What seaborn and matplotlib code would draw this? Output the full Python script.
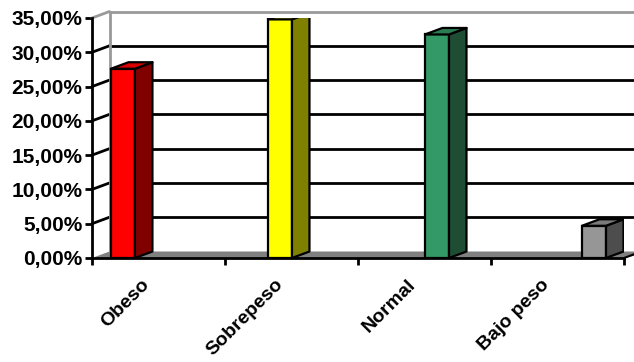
import matplotlib
matplotlib.use("Agg")
import matplotlib.pyplot as plt
import pandas as pd
import seaborn as sns
from matplotlib.patches import Polygon
from matplotlib.ticker import FuncFormatter

# Chart data (percent of people per weight category)
categories = ["Obeso", "Sobrepeso", "Normal", "Bajo peso"]
percentages = [27.6, 34.8, 32.6, 4.7]
y_ticks = [0, 5, 10, 15, 20, 25, 30, 35]

# Excel-like 3D colours: front, side, top
front_colors = ["#ff0000", "#ffff00", "#339966", "#969696"]
side_colors = ["#800000", "#808000", "#1f4d33", "#4d4d4d"]
top_colors = ["#d80000", "#cccc00", "#2a7d52", "#7a7a7a"]

sns.set_theme(style="white")
plt.rcParams["font.family"] = ["Liberation Sans", "DejaVu Sans"]
plt.rcParams["font.weight"] = "bold"
plt.rcParams["xtick.color"] = "black"
plt.rcParams["ytick.color"] = "black"
plt.rcParams["xtick.labelcolor"] = "black"
plt.rcParams["ytick.labelcolor"] = "black"

W, H = 634, 362
fig = plt.figure(figsize=(W / 100, H / 100), dpi=100)
ax = fig.add_axes([92 / W, 104 / H, 532 / W, 240 / H])

df = pd.DataFrame({"categoria": categories, "porcentaje": percentages})
sns.barplot(data=df, x="categoria", y="porcentaje", hue="categoria",
            palette=front_colors, width=0.153, edgecolor="black",
            linewidth=1.6, legend=False, saturation=1, ax=ax, zorder=4)
bars = list(ax.patches)

xmin, xmax = -0.197, 3.191
ax.set_xlim(xmin, xmax)
ax.set_ylim(0, 35)

# depth offset in data units (~17.5 px right, ~6.5 px up)
px_x = 532 / (xmax - xmin)
px_y = 240 / 35
dx = 17.5 / px_x
dy = 6.5 / px_y
x_right = xmax + 12 / px_x

# floor
ax.add_patch(Polygon([(xmin, 0), (xmax, 0), (x_right + dx, dy), (xmin + dx, dy)],
                     closed=True, facecolor="#808080", edgecolor="none",
                     clip_on=False, zorder=1))
ax.plot([xmax, xmax + dx], [0, dy], color="black", lw=1.5, clip_on=False, zorder=2)

# back wall gridlines and left wall diagonals
for v in y_ticks[1:]:
    col = "#999999" if v == y_ticks[-1] else "black"
    ax.plot([xmin, xmin + dx], [v, v + dy], color=col, lw=2, clip_on=False, zorder=2)
    ax.plot([xmin + dx, x_right + dx], [v + dy, v + dy], color=col, lw=2,
            clip_on=False, zorder=2)
ax.plot([xmin + dx, xmin + dx], [dy, y_ticks[-1] + dy], color="#999999", lw=2,
        clip_on=False, zorder=2)

# 3D side and top faces of each bar
for bar, sc, tc in zip(bars, side_colors, top_colors):
    x0 = bar.get_x()
    x1 = x0 + bar.get_width()
    h = bar.get_height()
    ax.add_patch(Polygon([(x1, 0), (x1 + dx, dy), (x1 + dx, h + dy), (x1, h)],
                         closed=True, facecolor=sc, edgecolor="black", lw=1.6,
                         joinstyle="round", zorder=4))
    ax.add_patch(Polygon([(x0, h), (x1, h), (x1 + dx, h + dy), (x0 + dx, h + dy)],
                         closed=True, facecolor=tc, edgecolor="black", lw=1.6,
                         joinstyle="round", zorder=4))

# axes styling
for side in ["top", "right"]:
    ax.spines[side].set_visible(False)
for side in ["left", "bottom"]:
    ax.spines[side].set_color("black")
    ax.spines[side].set_linewidth(2)
    ax.spines[side].set_zorder(5)
ax.set_xticks([])
ax.set_xlabel("")
ax.set_ylabel("")

# category axis (evenly divided under the floor)
ax2 = ax.twiny()
ax2.set_xlim(0, len(categories))
ax2.xaxis.set_ticks_position("bottom")
ax2.spines[:].set_visible(False)
ax2.set_xticks(range(len(categories) + 1))
ax2.set_xticklabels([])
ax2.set_xticks([i + 0.37 for i in range(len(categories))], minor=True)
ax2.set_xticklabels(categories, minor=True, rotation=45, ha="right",
                    rotation_mode="anchor", fontsize=14, fontweight="bold",
                    color="black")
ax2.tick_params(axis="x", which="major", direction="out", length=5, width=2,
                color="black", bottom=True)
ax2.tick_params(axis="x", which="minor", length=0, pad=13, bottom=True)

ax.set_yticks(y_ticks)
ax.yaxis.set_major_formatter(FuncFormatter(lambda v, _: f"{v:.2f}%".replace(".", ",")))
ax.tick_params(axis="y", direction="out", length=5, width=2, color="black",
               labelsize=15, labelcolor="black", pad=2, left=True)
for lbl in ax.get_yticklabels():
    lbl.set_fontweight("bold")

fig.savefig("out.png", dpi=100)
